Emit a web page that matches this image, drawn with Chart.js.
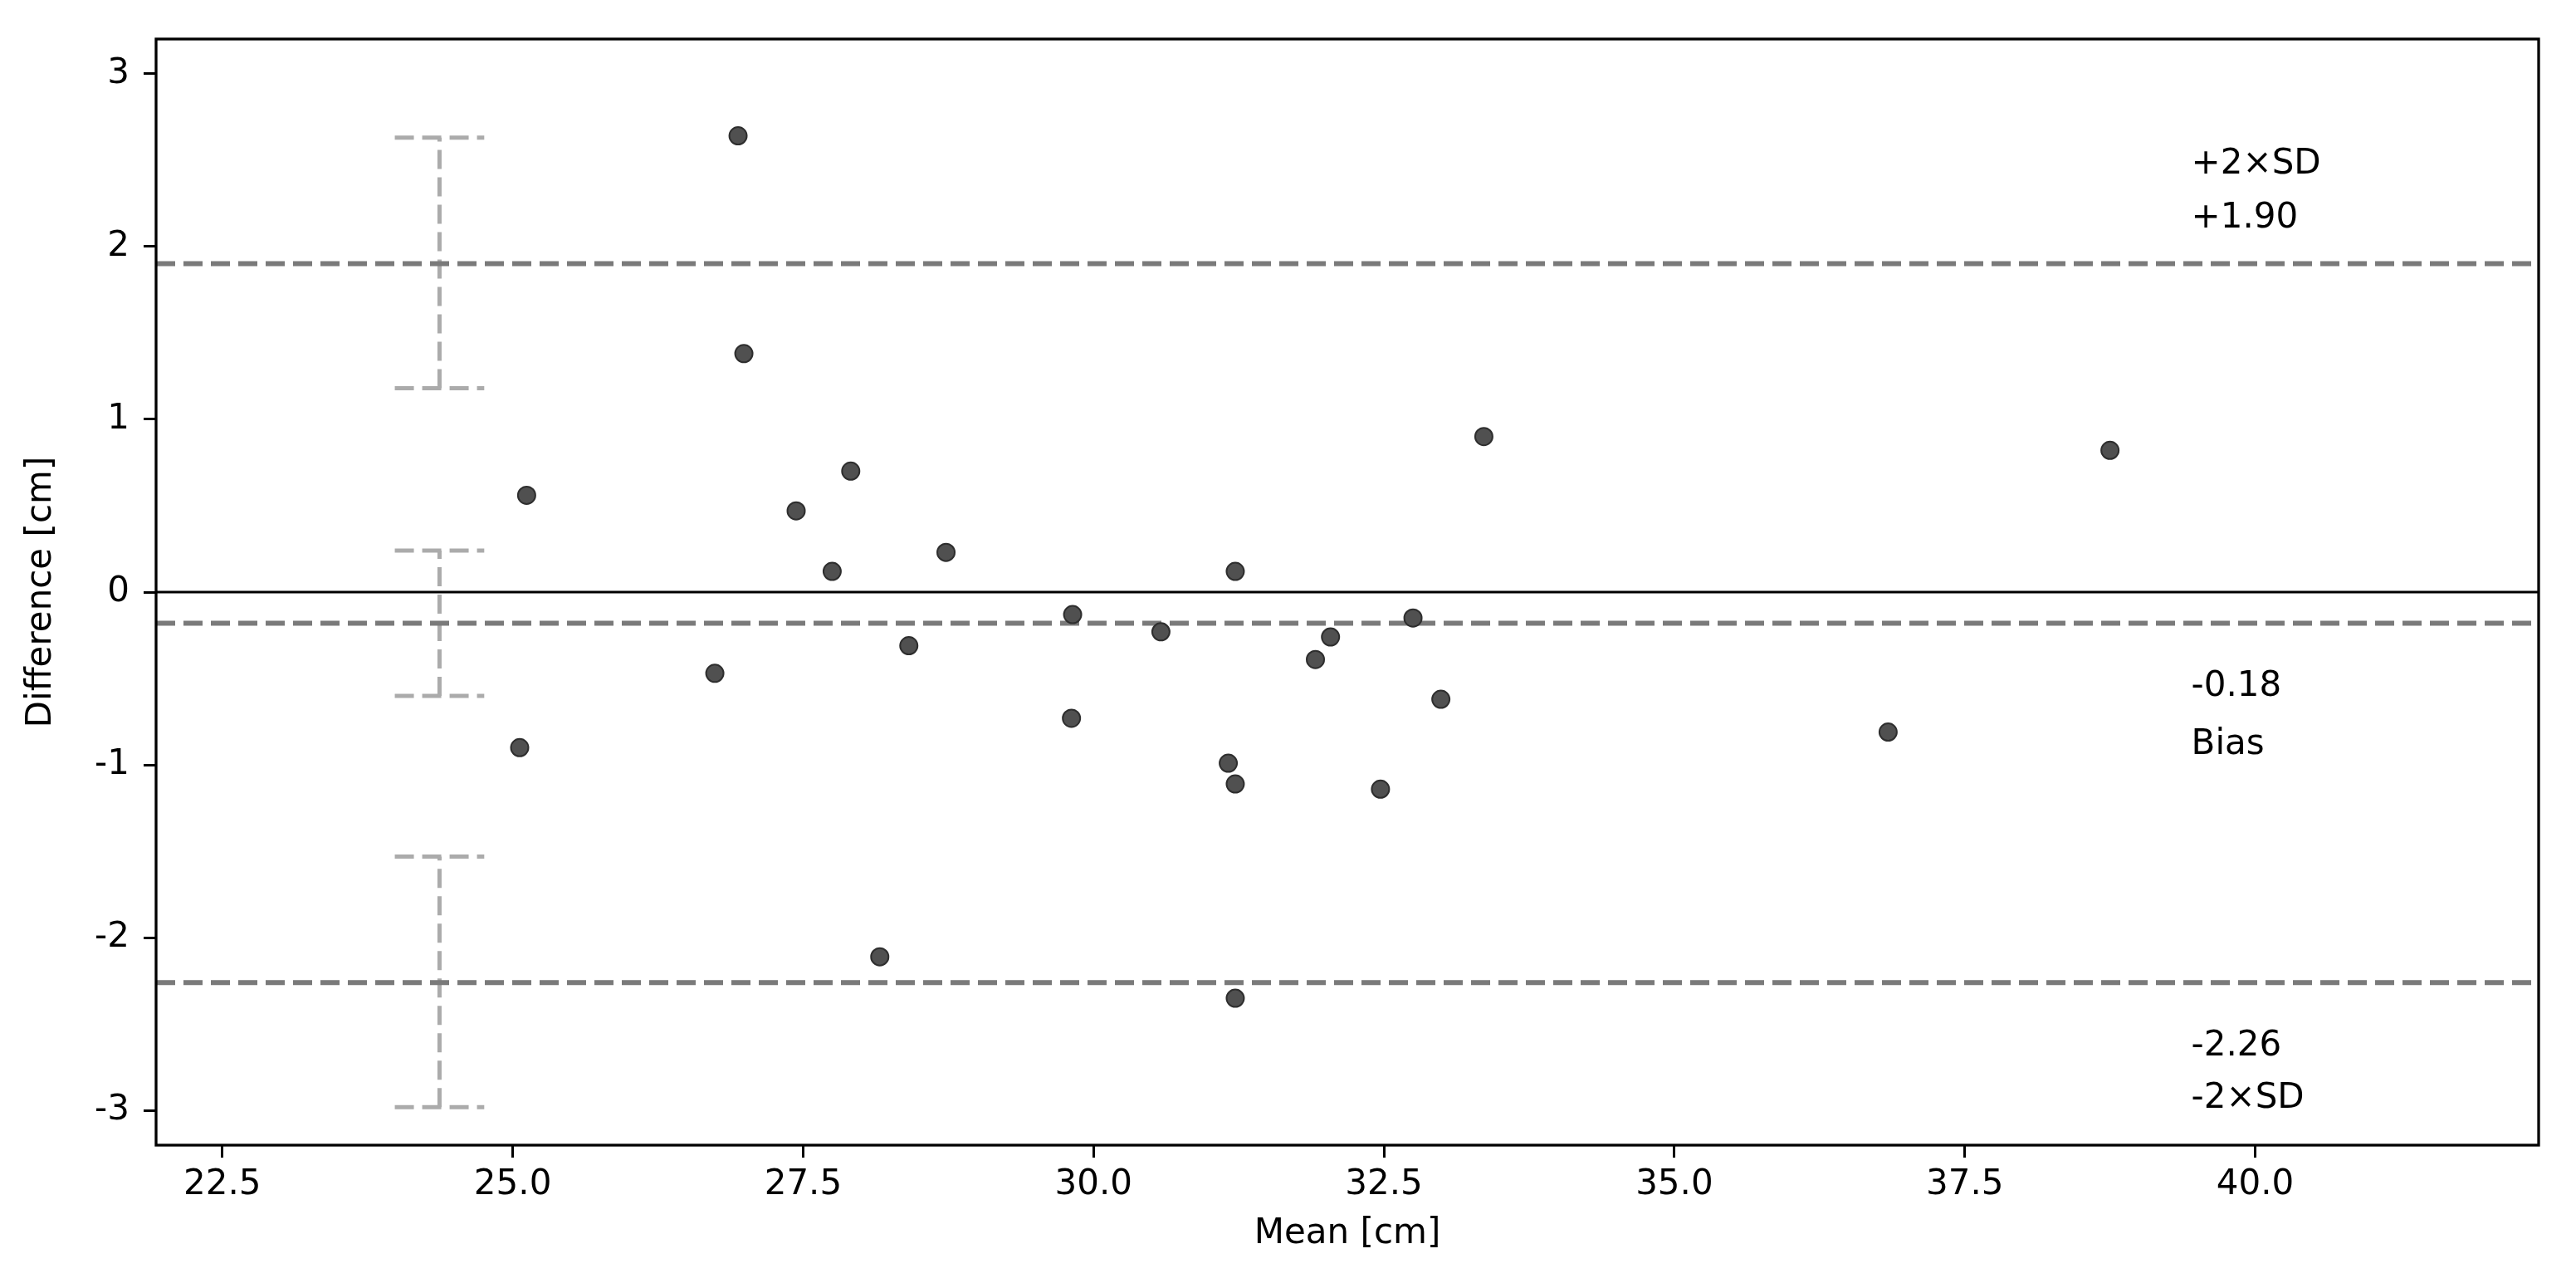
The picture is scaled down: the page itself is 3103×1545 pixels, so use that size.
<!DOCTYPE html>
<html>
<head>
<meta charset="utf-8">
<title>Bland-Altman</title>
<script src="https://cdn.jsdelivr.net/npm/chart.js@4.4.1/dist/chart.umd.min.js"></script>
<style>
  body { margin: 0; background: #fff; }
  #wrap { width: 3103px; height: 1545px; position: relative; }
</style>
</head>
<body>
<div id="wrap"><canvas id="canvas"></canvas></div>
<script>
'use strict';

// data
var meanVals = [26.94, 26.99, 25.12, 25.06, 27.44, 27.91, 27.75, 28.73, 26.74, 28.41, 28.16, 29.82, 29.81,
  30.58, 31.22, 31.16, 31.22, 31.22, 31.91, 32.04, 32.75, 32.47, 32.99, 33.36, 36.84, 38.75];
var diffVals = [2.64, 1.38, 0.56, -0.90, 0.47, 0.70, 0.12, 0.23, -0.47, -0.31, -2.11, -0.13, -0.73,
  -0.23, 0.12, -0.99, -1.11, -2.35, -0.39, -0.26, -0.15, -1.14, -0.62, 0.90, -0.81, 0.82];

var limitNames = ['+2×SD', 'Bias', '-2×SD'];
var limitVals = [1.90, -0.18, -2.26];
var ciLow = [1.18, -0.60, -2.98];
var ciHigh = [2.63, 0.24, -1.53];
var ciMean = 24.37;

var xTicks = [22.5, 25.0, 27.5, 30.0, 32.5, 35.0, 37.5, 40.0];
var yTicks = [-3, -2, -1, 0, 1, 2, 3];

var xMin = 21.93;
var xMax = 42.44;
var capHalf = 0.385;
var fontFamily = "'DejaVu Sans', sans-serif";

var datasets = [];

datasets.push({
  type: 'scatter',
  data: meanVals.map(function (m, i) { return {x: m, y: diffVals[i]}; }),
  backgroundColor: '#505050',
  borderColor: '#2e2e2e',
  borderWidth: 2,
  pointRadius: 10.5,
  order: 0
});

// zero line
datasets.push({
  type: 'line',
  data: [{x: xMin, y: 0}, {x: xMax, y: 0}],
  borderColor: '#000',
  borderWidth: 3,
  pointRadius: 0,
  order: 2
});

for (var i = 0; i < limitVals.length; i++) {
  datasets.push({
    type: 'line',
    data: [{x: xMin, y: limitVals[i]}, {x: xMax, y: limitVals[i]}],
    borderColor: '#7a7a7a',
    borderWidth: 6,
    borderDash: [23, 10],
    pointRadius: 0,
    order: 1
  });
  // confidence interval bar with caps
  datasets.push({
    type: 'line',
    data: [{x: ciMean, y: ciLow[i]}, {x: ciMean, y: ciHigh[i]}],
    borderColor: '#ababab',
    borderWidth: 5,
    borderDash: [23, 10],
    pointRadius: 0,
    order: 3
  });
  [ciLow[i], ciHigh[i]].forEach(function (v) {
    datasets.push({
      type: 'line',
      data: [{x: ciMean - capHalf, y: v}, {x: ciMean + capHalf, y: v}],
      borderColor: '#ababab',
      borderWidth: 5,
      borderDash: [23, 10],
      pointRadius: 0,
      order: 3
    });
  });
}

var notes = [
  {text: limitNames[0], y: 2.42},
  {text: '+' + limitVals[0].toFixed(2), y: 2.11},
  {text: limitVals[1].toFixed(2), y: -0.60},
  {text: limitNames[1], y: -0.935},
  {text: limitVals[2].toFixed(2), y: -2.68},
  {text: limitNames[2], y: -2.985}
];
var noteX = 39.45;

var framePlugin = {
  id: 'frame',
  afterDatasetsDraw: function (chart) {
    var a = chart.chartArea;
    var c = chart.ctx;
    c.save();
    c.strokeStyle = '#000';
    c.lineWidth = 3.3;
    c.strokeRect(a.left, a.top, a.right - a.left, a.bottom - a.top);
    c.fillStyle = '#000';
    c.font = '42px ' + fontFamily;
    c.textAlign = 'left';
    c.textBaseline = 'alphabetic';
    var px = chart.scales.x.getPixelForValue(noteX);
    notes.forEach(function (n) {
      c.fillText(n.text, px, chart.scales.y.getPixelForValue(n.y));
    });
    c.restore();
  }
};

var tickGrid = {
  display: true,
  drawOnChartArea: false,
  drawTicks: true,
  tickLength: 15,
  tickWidth: 3,
  tickColor: '#000'
};

var canvas = document.getElementById('canvas');
var ctx = canvas.getContext('2d');

var chart = new Chart(ctx, {
  type: 'scatter',
  data: {datasets: datasets},
  plugins: [framePlugin],
  options: {
    responsive: true,
    maintainAspectRatio: false,
    animation: false,
    devicePixelRatio: 1,
    layout: {padding: {top: 47, right: 45, left: 0, bottom: 0}},
    plugins: {legend: {display: false}, tooltip: {enabled: false}},
    scales: {
      x: {
        type: 'linear',
        min: xMin,
        max: xMax,
        grid: tickGrid,
        border: {display: false},
        afterBuildTicks: function (s) { s.ticks = xTicks.map(function (v) { return {value: v}; }); },
        afterFit: function (s) { s.height = 166; },
        ticks: {
          color: '#000',
          padding: 8,
          maxRotation: 0,
          font: {family: fontFamily, size: 42},
          callback: function (v) { return Number(v).toFixed(1); }
        },
        title: {
          display: true,
          text: 'Mean [cm]',
          color: '#000',
          font: {family: fontFamily, size: 42},
          padding: {top: 0, bottom: 34}
        }
      },
      y: {
        type: 'linear',
        min: -3.2,
        max: 3.2,
        grid: tickGrid,
        border: {display: false},
        afterBuildTicks: function (s) { s.ticks = yTicks.map(function (v) { return {value: v}; }); },
        afterFit: function (s) { s.width = 188; },
        ticks: {
          color: '#000',
          padding: 17,
          font: {family: fontFamily, size: 42},
          callback: function (v) { return String(v); }
        },
        title: {
          display: true,
          text: 'Difference [cm]',
          color: '#000',
          font: {family: fontFamily, size: 42},
          padding: {top: 25, bottom: 0}
        }
      }
    }
  }
});
</script>
</body>
</html>
